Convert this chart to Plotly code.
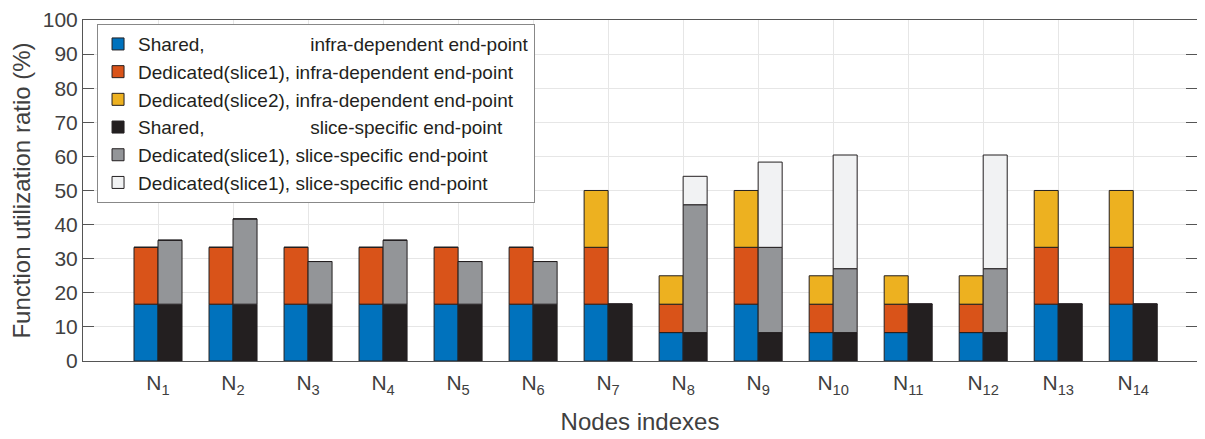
import plotly.graph_objects as go

nodes = [f"N<sub>{i}</sub>" for i in range(1, 15)]
node_idx = list(range(1, 15))

shared_infra = [16.67, 16.67, 16.67, 16.67, 16.67, 16.67, 16.67, 8.33, 16.67, 8.33, 8.33, 8.33, 16.67, 16.67]
ded1_infra = [16.67, 16.67, 16.67, 16.67, 16.67, 16.67, 16.67, 8.33, 16.67, 8.33, 8.33, 8.33, 16.67, 16.67]
ded2_infra = [0, 0, 0, 0, 0, 0, 16.67, 8.33, 16.67, 8.33, 8.33, 8.33, 16.67, 16.67]
shared_slice = [16.67, 16.67, 16.67, 16.67, 16.67, 16.67, 16.67, 8.33, 8.33, 8.33, 16.67, 8.33, 16.67, 16.67]
ded1_slice = [18.75, 25.0, 12.5, 18.75, 12.5, 12.5, 0, 37.5, 25.0, 18.75, 0, 18.75, 0, 0]
ded2_slice = [0, 0, 0, 0, 0, 0, 0, 8.33, 25.0, 33.33, 0, 33.33, 0, 0]

NB = "\u00a0"
names = [
    "Shared," + NB * 20 + "infra-dependent end-point",
    "Dedicated(slice1), infra-dependent end-point",
    "Dedicated(slice2), infra-dependent end-point",
    "Shared," + NB * 20 + "slice-specific end-point",
    "Dedicated(slice1), slice-specific end-point",
    "Dedicated(slice1), slice-specific end-point",
]
colors = ["#0072BD", "#D95319", "#EDB120", "#231F20", "#939598", "#F1F2F3"]

bw = 0.32
left_x = [i - bw / 2 for i in node_idx]
right_x = [i + bw / 2 for i in node_idx]

fig = go.Figure()
series = [
    (shared_infra, left_x), (ded1_infra, left_x), (ded2_infra, left_x),
    (shared_slice, right_x), (ded1_slice, right_x), (ded2_slice, right_x),
]
for (vals, xs), name, col in zip(series, names, colors):
    fig.add_trace(go.Bar(
        x=xs, y=vals, name=name, width=bw,
        marker=dict(color=col, line=dict(color="#231F20", width=1)),
    ))

axis_common = dict(
    showline=True, linecolor="#555555", linewidth=1, mirror="ticks",
    ticks="inside", tickcolor="#555555", automargin=False,
    showgrid=True, gridcolor="#E6E6E6", gridwidth=1, zeroline=False,
    ticklabeloverflow="allow",
)

fig.update_layout(
    barmode="relative",
    width=1197, height=431,
    margin=dict(l=75, r=8, t=12, b=78),
    plot_bgcolor="white", paper_bgcolor="white",
    font=dict(family="Liberation Sans, Arial, sans-serif", color="#404040"),
    showlegend=True,
    legend=dict(
        x=0.0126, y=0.988, xanchor="left", yanchor="top",
        bgcolor="white", bordercolor="#888888", borderwidth=1,
        font=dict(size=19, color="#231F20"),
        tracegroupgap=0, itemwidth=30,
    ),
    xaxis=dict(
        range=[0, 14.85], tickvals=node_idx, ticktext=nodes,
        tickfont=dict(size=21, color="#404040"),
        ticklen=0, ticklabelstandoff=3,
        title=dict(text="Nodes indexes", font=dict(size=24, color="#404040"), standoff=16),
        **axis_common,
    ),
    yaxis=dict(
        range=[0, 100], dtick=10, ticklen=11,
        tickfont=dict(size=21, color="#404040"),
        title=dict(text="Function utilization ratio (%)", font=dict(size=24, color="#404040"), standoff=20),
        **axis_common,
    ),
)

fig.write_html("out.html")
